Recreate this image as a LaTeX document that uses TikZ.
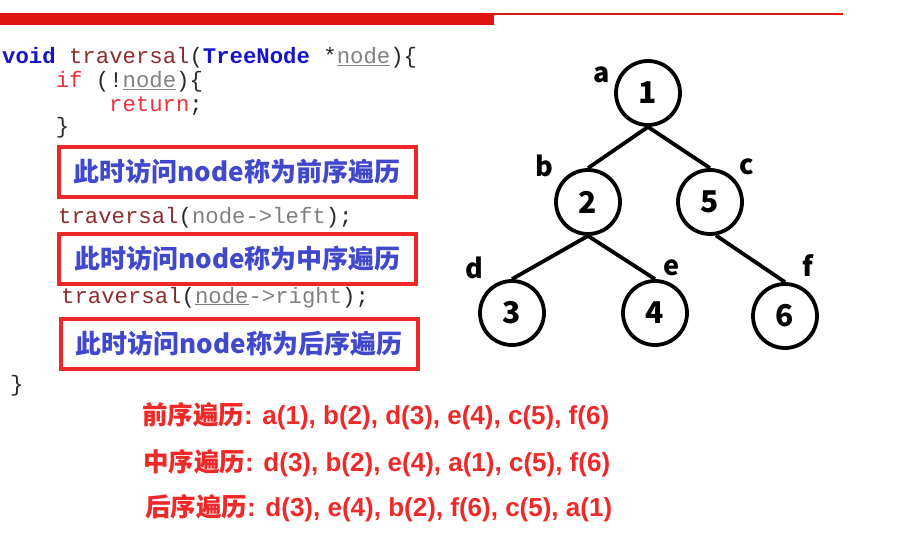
\documentclass[tikz,border=0pt]{standalone}
\usepackage{fontspec}
\setmainfont{Liberation Sans}
\setmonofont{Liberation Mono}
\newfontfamily\cjk{Noto Sans CJK SC}
\definecolor{barred}{RGB}{224,20,16}
\definecolor{kwblue}{RGB}{20,20,200}
\definecolor{fnred}{RGB}{140,45,45}
\definecolor{idgrey}{RGB}{128,128,128}
\definecolor{kwred}{RGB}{238,50,60}
\definecolor{punct}{RGB}{40,40,40}
\definecolor{boxblue}{RGB}{64,72,204}
\definecolor{boxred}{RGB}{238,40,40}
\definecolor{resred}{RGB}{240,40,40}
\newcommand\kw[1]{{\color{kwblue}\bfseries #1}}
\newcommand\fn[1]{{\color{fnred}#1}}
\newcommand\idu[1]{{\color{idgrey}\underline{#1}}}
\newcommand\idn[1]{{\color{idgrey}#1}}
\newcommand\kr[1]{{\color{kwred}#1}}
\newcommand\lat[1]{{\rmfamily\bfseries\fontsize{26}{30}\selectfont #1}}
\tikzset{
  code/.style={anchor=base west, inner sep=0pt, font=\ttfamily\fontsize{22.3}{24}\selectfont, text=punct},
  visit/.style={draw=boxred, line width=4pt, minimum width=357pt, minimum height=50pt, inner sep=0pt,
     font=\cjk\bfseries\fontsize{26}{30}\selectfont, text=boxblue},
  result/.style={anchor=base west, inner sep=0pt, font=\cjk\bfseries\fontsize{25.5}{30}\selectfont, text=resred},
  circ/.style={circle, draw, line width=3.8pt, minimum size=64pt, inner sep=0pt, font=\cjk\bfseries\fontsize{30}{32}\selectfont},
  lbl/.style={inner sep=0pt, font=\cjk\bfseries\fontsize{27}{30}\selectfont},
  edge/.style={line width=3.8pt}
}
\begin{document}
\begin{tikzpicture}[x=1pt,y=-1pt]
\useasboundingbox (0,0) rectangle (900,556);
% top bar
\fill[barred] (0,13) rectangle (494,25);
\draw[barred, line width=1.5pt] (494,14) -- (843,14);
% code
\node[code] (c1) at (2,64) {\kw{void} \fn{traversal}(\kw{TreeNode} *\idu{node})\{};
\node[code] (c2) at (55.6,88) {\kr{if} (!\idu{node})\{};
\node[code] (c3) at (109,112) {\kr{return};};
\node[code] (c4) at (55.6,134) {\}};
\node[visit] (v1) at (237,172) {此时访问node称为前序遍历};
\node[code] (c5) at (58,224) {\fn{traversal}(\idn{node->left});};
\node[visit] (v2) at (237.5,259) {此时访问node称为中序遍历};
\node[code] (c6) at (61,303) {\fn{traversal}(\idu{node}\idn{->right});};
\node[visit] (v3) at (239,344) {此时访问node称为后序遍历};
\node[code] (c7) at (10,391) {\}};
% results
\node[result] (r1) at (142,424) {前序遍历\lat{: a(1), b(2), d(3), e(4), c(5), f(6)}};
\node[result] (r2) at (143,471) {中序遍历\lat{: d(3), b(2), e(4), a(1), c(5), f(6)}};
\node[result] (r3) at (145,516) {后序遍历\lat{: d(3), e(4), b(2), f(6), c(5), a(1)}};
% tree
\node[circ] (n1) at (648,93) {1};
\node[circ] (n2) at (588,202) {2};
\node[circ] (n5) at (710,202) {5};
\node[circ] (n3) at (512,313) {3};
\node[circ] (n4) at (655,313) {4};
\node[circ] (n6) at (785,316) {6};
\draw[edge] (n1.south) -- (n2.north);
\draw[edge] (n1.south) -- (n5.north);
\draw[edge] (n2.south) -- (n3.north);
\draw[edge] (n2.south) -- (n4.north);
\draw[edge] (n5.-80) -- (n6.north);
\node[lbl] (la) at (602,75) {a};
\node[lbl] (lb) at (544,166) {b};
\node[lbl] (lc) at (747,167) {c};
\node[lbl] (ld) at (474,268) {d};
\node[lbl] (le) at (672,268) {e};
\node[lbl] (lf) at (808,266) {f};
\end{tikzpicture}
\end{document}
